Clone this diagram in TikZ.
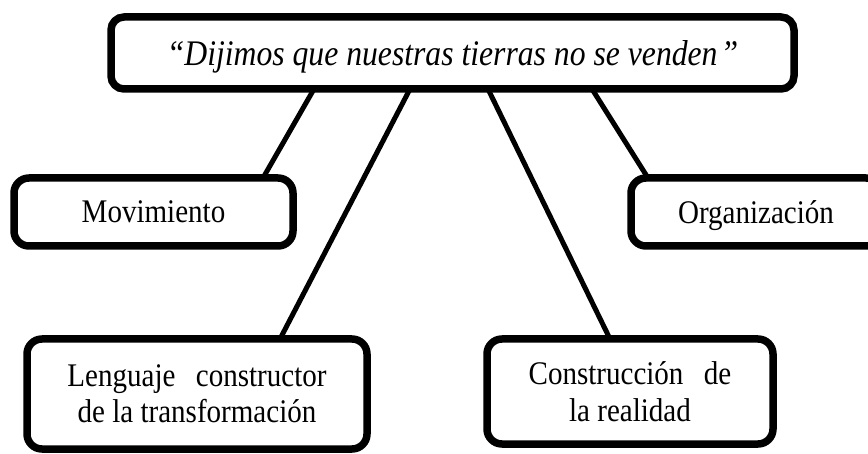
\documentclass[tikz,border=0pt]{standalone}
\usepackage{fontspec}
\setmainfont{Liberation Serif}[FakeStretch=0.88]
\begin{document}
\begin{tikzpicture}[x=1pt,y=-1pt,
  box/.style={draw, line width=7.5pt, rounded corners=15pt, fill=white,
    outer sep=0pt, inner sep=0pt, align=center,
    font=\fontsize{33}{36}\selectfont},
  single/.style={text depth=0pt},
  link/.style={line width=5pt}]
\useasboundingbox (0,0) rectangle (868,454);
\clip (0,0) rectangle (868,454);
\node[box, single, rounded corners=13pt, minimum width=683pt, minimum height=72pt,
  font=\fontsize{36}{38}\selectfont\itshape] (top) at (452.5,53)
  {“Dijimos que nuestras tierras no se venden\hspace{3pt}”};
\node[box, single, minimum width=279pt, minimum height=68pt] (mov) at (153.5,212) {Movimiento};
\node[box, single, minimum width=250pt, minimum height=68pt] (org) at (756,212) {Organización};
\node[box, minimum width=340pt, minimum height=110pt] (len) at (197,394)
  {Lenguaje\hspace{0.4em} constructor\\de la transformación};
\node[box, minimum width=286pt, minimum height=105pt,
  font=\fontsize{33}{37}\selectfont] (con) at (630,391.5)
  {Construcción\hspace{0.4em} de\\la realidad};
\draw[link] ([xshift=-138.5pt]top.south) -- ([xshift=109.5pt]mov.north);
\draw[link] ([xshift=-42.5pt]top.south) -- ([xshift=83pt]len.north);
\draw[link] ([xshift=35.5pt]top.south) -- ([xshift=-20pt]con.north);
\draw[link] ([xshift=139.5pt]top.south) -- ([xshift=-108pt]org.north);
\end{tikzpicture}
\end{document}
